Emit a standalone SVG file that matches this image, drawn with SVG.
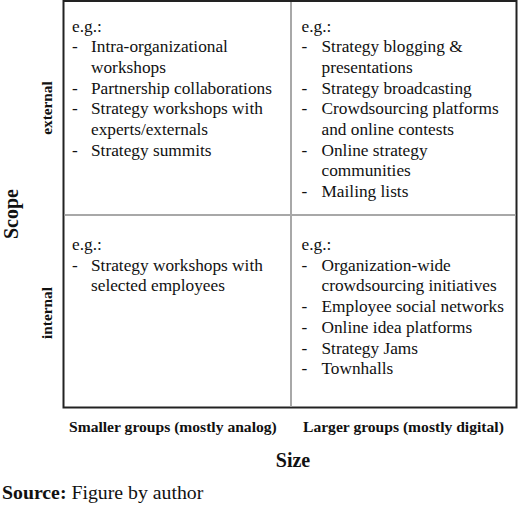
<svg xmlns="http://www.w3.org/2000/svg" width="520" height="508" viewBox="0 0 520 508">
<style>
.t{font-family:"Liberation Serif","Times New Roman",serif;font-size:17.3px;fill:#111}
.b{font-family:"Liberation Serif","Times New Roman",serif;font-weight:bold;fill:#111}
.div{stroke:#a8a8a8;stroke-width:2;fill:none}
</style>
<rect width="520" height="508" fill="#fff"/>
<g id="frame">
<rect x="63.5" y="1" width="453" height="406.5" fill="none" stroke="#222" stroke-width="2"/>
</g>
<g id="dividers">
<line class="div" x1="291" y1="2" x2="291" y2="406.5"/>
<line class="div" x1="64.5" y1="215" x2="515.5" y2="215"/>
</g>
<g id="q-top-left">
<text class="t" x="72" y="31.5">e.g.:</text>
<text class="t" x="72" y="52.2">-</text><text class="t" x="91" y="52.2">Intra-organizational</text>
<text class="t" x="91" y="72.9">workshops</text>
<text class="t" x="72" y="93.6">-</text><text class="t" x="91" y="93.6">Partnership collaborations</text>
<text class="t" x="72" y="114.3">-</text><text class="t" x="91" y="114.3">Strategy workshops with</text>
<text class="t" x="91" y="135">experts/externals</text>
<text class="t" x="72" y="155.7">-</text><text class="t" x="91" y="155.7">Strategy summits</text>
</g>
<g id="q-top-right">
<text class="t" x="301.5" y="31.5">e.g.:</text>
<text class="t" x="301.5" y="52.2">-</text><text class="t" x="321.5" y="52.2">Strategy blogging &amp;</text>
<text class="t" x="321.5" y="72.9">presentations</text>
<text class="t" x="301.5" y="93.6">-</text><text class="t" x="321.5" y="93.6">Strategy broadcasting</text>
<text class="t" x="301.5" y="114.3">-</text><text class="t" x="321.5" y="114.3">Crowdsourcing platforms</text>
<text class="t" x="321.5" y="135">and online contests</text>
<text class="t" x="301.5" y="155.7">-</text><text class="t" x="321.5" y="155.7">Online strategy</text>
<text class="t" x="321.5" y="176.4">communities</text>
<text class="t" x="301.5" y="197.1">-</text><text class="t" x="321.5" y="197.1">Mailing lists</text>
</g>
<g id="q-bottom-left">
<text class="t" x="72" y="250">e.g.:</text>
<text class="t" x="72" y="270.7">-</text><text class="t" x="91" y="270.7">Strategy workshops with</text>
<text class="t" x="91" y="291.4">selected employees</text>
</g>
<g id="q-bottom-right">
<text class="t" x="301.5" y="250">e.g.:</text>
<text class="t" x="301.5" y="270.7">-</text><text class="t" x="321.5" y="270.7">Organization-wide</text>
<text class="t" x="321.5" y="291.4">crowdsourcing initiatives</text>
<text class="t" x="301.5" y="312.1">-</text><text class="t" x="321.5" y="312.1">Employee social networks</text>
<text class="t" x="301.5" y="332.8">-</text><text class="t" x="321.5" y="332.8">Online idea platforms</text>
<text class="t" x="301.5" y="353.5">-</text><text class="t" x="321.5" y="353.5">Strategy Jams</text>
<text class="t" x="301.5" y="374.2">-</text><text class="t" x="321.5" y="374.2">Townhalls</text>
</g>
<g id="axis-labels">
<text class="b" font-size="20" text-anchor="middle" transform="translate(18,214) rotate(-90)">Scope</text>
<text class="b" font-size="15.3" text-anchor="middle" transform="translate(51.5,108) rotate(-90)">external</text>
<text class="b" font-size="15.3" text-anchor="middle" transform="translate(51.5,313) rotate(-90)">internal</text>
<text class="b" font-size="15.6" x="69" y="432">Smaller groups (mostly analog)</text>
<text class="b" font-size="15.6" x="303" y="432">Larger groups (mostly digital)</text>
<text class="b" font-size="20" x="293" y="467" text-anchor="middle">Size</text>
</g>
<g id="source">
<text x="2" y="499" font-family="'Liberation Serif','Times New Roman',serif" font-size="19.8" fill="#111"><tspan font-weight="bold">Source:</tspan> Figure by author</text>
</g>
</svg>
